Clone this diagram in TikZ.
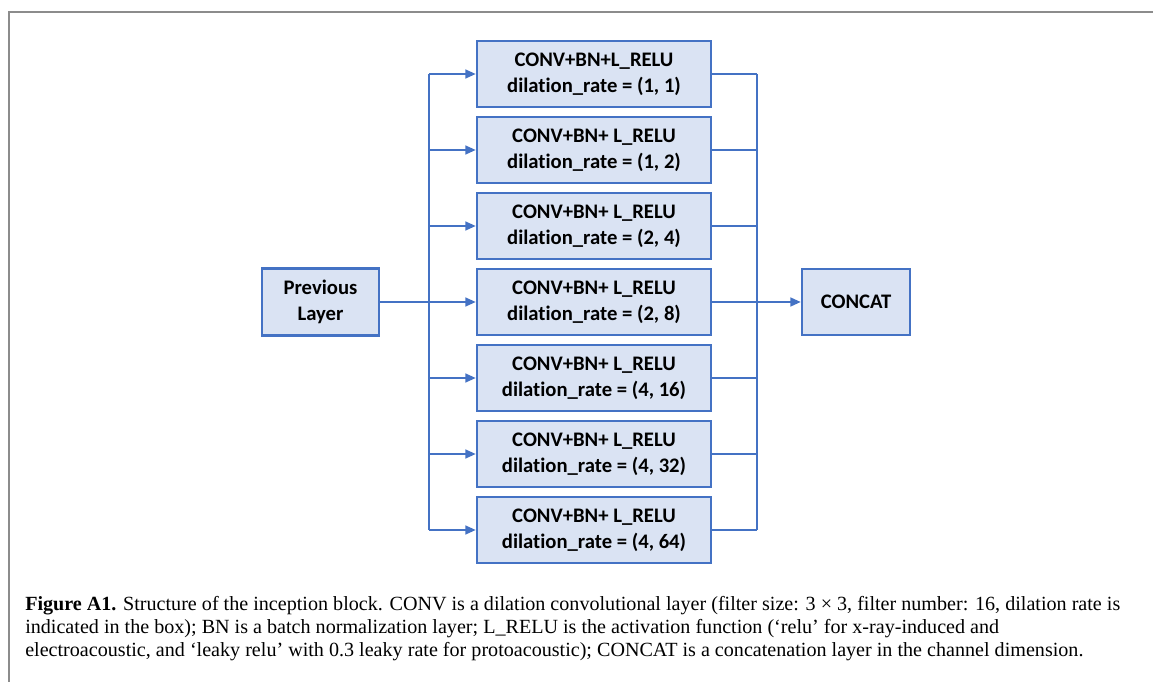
\documentclass[tikz,border=0pt]{standalone}
\usepackage{fontspec}
\setmainfont{Liberation Serif}
\newfontfamily\boxfont[Ligatures=NoCommon]{Carlito}
\usetikzlibrary{arrows.meta}
\definecolor{edgeblue}{HTML}{4472C4}
\definecolor{fillblue}{HTML}{DAE3F3}
\definecolor{framegray}{HTML}{8C8C8C}
\tikzset{
  layer/.style={draw=edgeblue,fill=fillblue,line width=1.7pt,align=center,inner sep=0pt,
    font=\boxfont\bfseries\fontsize{14.7}{18.4}\selectfont,minimum height=1.65cm},
  conv/.style={layer,minimum width=5.85cm},
  link/.style={edgeblue,line width=1.4pt},
  feed/.style={link,-{Triangle[length=0.26cm,width=0.22cm]}},
  frame/.style={framegray,line width=1.4pt},
  capt/.style={font=\fontsize{14.3}{16.4}\selectfont,align=left,inner sep=0pt,anchor=north west},
}
\begin{document}
\begin{tikzpicture}[x=0.025cm,y=-0.025cm]
  \useasboundingbox (0,0) rectangle (1153,682);
  % frame: only the top and left edges show
  \draw[frame] (1153,12) -- (9,12) -- (9,682);
  % input and output
  \node[layer,minimum width=2.925cm,minimum height=1.675cm] (prev) at (320.5,302) {Previous\\Layer};
  \node[layer,minimum width=2.7cm] (concat) at (856,302) {CONCAT};
  % seven parallel branches, 76 px apart
  \foreach \i/\head/\rate in {1/{CONV+BN+L\_RELU}/{(1, 1)},
                              2/{CONV+BN+ L\_RELU}/{(1, 2)},
                              3/{CONV+BN+ L\_RELU}/{(2, 4)},
                              4/{CONV+BN+ L\_RELU}/{(2, 8)},
                              5/{CONV+BN+ L\_RELU}/{(4, 16)},
                              6/{CONV+BN+ L\_RELU}/{(4, 32)},
                              7/{CONV+BN+ L\_RELU}/{(4, 64)}} {
    \pgfmathsetmacro\yy{74+76*(\i-1)}
    \node[conv] (conv-\i) at (594,\yy) {\head\\dilation\_rate = \rate};
    \coordinate (lbus-\i) at (429,\yy);
    \coordinate (rbus-\i) at (757,\yy);
    \draw[feed] (lbus-\i) -- (conv-\i.west);
    \draw[link] (conv-\i.east) -- (rbus-\i);
  }
  % split and merge buses
  \draw[link] (lbus-1) -- (lbus-7);
  \draw[link] (rbus-1) -- (rbus-7);
  \draw[link] (prev.east) -- (lbus-4);
  \draw[feed] (rbus-4) -- (concat.west);
  % caption
  \node[capt] (caption) at (25,596) {\textbf{Figure A1.} Structure of the inception block. CONV is a dilation convolutional layer (filter size: 3 × 3, filter number: 16, dilation rate is\\
    indicated in the box); BN is a batch normalization layer; L\_RELU is the activation function (‘relu’ for x-ray-induced and\\
    electroacoustic, and ‘leaky relu’ with 0.3 leaky rate for protoacoustic); CONCAT is a concatenation layer in the channel dimension.};
\end{tikzpicture}
\end{document}
